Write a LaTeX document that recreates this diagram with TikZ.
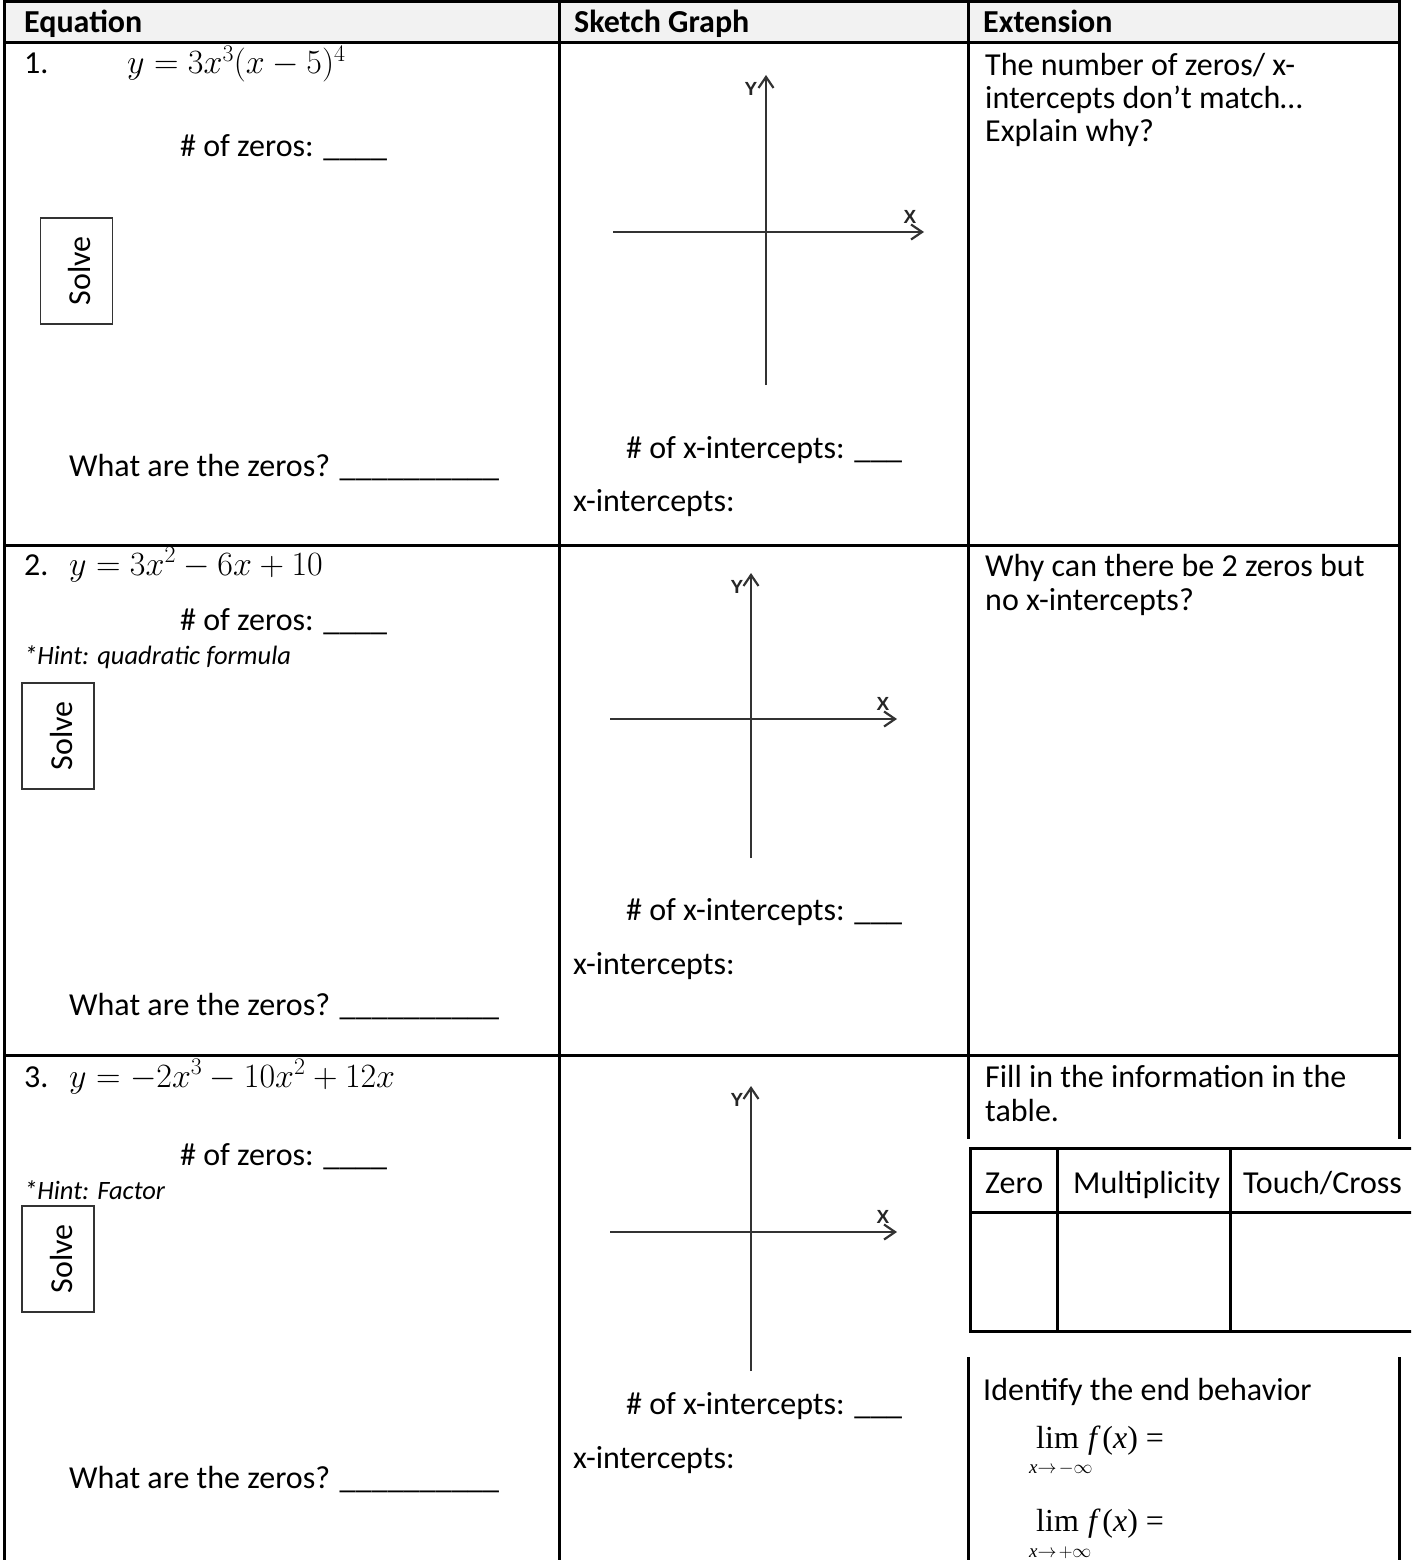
\RequirePackage{fix-cm}
\documentclass[tikz,border=0pt]{standalone}
\usepackage[no-math]{fontspec}
\setmainfont{Carlito}
\newfontfamily\axisfont{Liberation Sans}
\newfontfamily\timesf{Liberation Serif}
\usetikzlibrary{arrows.meta}
\definecolor{hdrgray}{HTML}{F2F2F2}
\definecolor{axgray}{HTML}{333333}
\begin{document}
\begin{tikzpicture}[x=1pt,y=-1pt,
  txt/.style={anchor=base west, inner sep=0pt, font=\fontsize{32}{33}\selectfont},
  hdr/.style={anchor=base west, inner sep=0pt, font=\fontsize{32}{33}\selectfont\bfseries},
  hint/.style={anchor=base west, inner sep=0pt, font=\fontsize{26.5}{28}\selectfont\itshape},
  eqn/.style={anchor=base west, inner sep=0pt, font=\fontsize{34}{36}\selectfont},
  limtxt/.style={anchor=base west, inner sep=0pt, font=\fontsize{32}{34}\selectfont\timesf},
  subtxt/.style={anchor=base west, inner sep=0pt, font=\fontsize{19}{20}\selectfont\timesf},
  tbl/.style={line width=3pt, line cap=rect},
  solvebox/.style={draw=black!80, line width=1.4pt, minimum width=72pt, minimum height=106pt, inner sep=0pt},
  solvetxt/.style={rotate=90, inner sep=0pt, font=\fontsize{32}{33}\selectfont},
  axis/.style={line width=2.5pt, draw=axgray, -{Straight Barb[length=11pt,width=15pt,line width=2.2pt]}},
  axlab/.style={inner sep=0pt, font=\fontsize{19}{19}\selectfont\axisfont\bfseries, text=black!85},
]
\useasboundingbox (0,0) rectangle (1411,1560);
\clip (0,0) rectangle (1411,1560);

% header background
\fill[hdrgray] (4,2) rectangle (1399,43);

% main table lines
\draw[tbl] (4,2) -- (1399,2);
\draw[tbl] (4,43) -- (1399,43);
\draw[tbl] (4,545) -- (1399,545);
\draw[tbl] (4,1055) -- (1399,1055);
\draw[tbl] (4,2) -- (4,1565);
\draw[tbl] (559,2) -- (559,1565);
\draw[tbl] (968,2) -- (968,1137);
\draw[tbl] (968,1358) -- (968,1565);
\draw[tbl] (1399,2) -- (1399,1137);
\draw[tbl] (1399,1358) -- (1399,1565);

% inner table
\draw[tbl] (970,1148) -- (1420,1148);
\draw[tbl] (970,1212) -- (1420,1212);
\draw[tbl] (970,1331) -- (1420,1331);
\draw[tbl] (970,1148) -- (970,1331);
\draw[tbl] (1057,1148) -- (1057,1331);
\draw[tbl] (1230,1148) -- (1230,1331);

% headers
\node[hdr] (h1) at (24,33) {Equation};
\node[hdr] (h2) at (574,33) {Sketch Graph};
\node[hdr] (h3) at (983,33) {Extension};

% ---------- row 1
\node[txt] (n1) at (24,74) {1.};
\node[eqn] (e1) at (127,74) {$y = 3x^3(x-5)^4$};
\node[txt] (z1) at (180,157) {\# of zeros: \_\_\_\_};
\node[solvebox] (s1) at (76.5,271) {};
\node[solvetxt] (s1t) at ([xshift=3pt]s1.center) {Solve};
\node[txt] (w1) at (69,476) {What are the zeros? \_\_\_\_\_\_\_\_\_\_};
\node[txt] (xi1) at (626,458) {\# of x-intercepts: \_\_\_};
\node[txt] (xl1) at (573,511) {x-intercepts:};
\node[txt] (c1a) at (985,76) {The number of zeros/ x-};
\node[txt] (c1b) at (985,109) {intercepts don’t match…};
\node[txt] (c1c) at (985,142) {Explain why?};

\coordinate (g1l) at (613,232);
\coordinate (g1r) at (924,232);
\coordinate (g1b) at (766,385);
\coordinate (g1t) at (766,75);
\draw[axis] (g1l) -- (g1r);
\draw[axis] (g1b) -- (g1t);
\node[axlab] (g1y) at (751,89) {Y};
\node[axlab] (g1x) at (910,217) {X};

% ---------- row 2
\node[txt] (n2) at (24,575) {2.};
\node[eqn] (e2) at (69,575) {$y = 3x^2 - 6x + 10$};
\node[txt] (z2) at (180,630) {\# of zeros: \_\_\_\_};
\node[hint] (hi2) at (24,664) {*Hint: quadratic formula};
\node[solvebox] (s2) at (58,736) {};
\node[solvetxt] (s2t) at ([xshift=3pt]s2.center) {Solve};
\node[txt] (w2) at (69,1015) {What are the zeros? \_\_\_\_\_\_\_\_\_\_};
\node[txt] (xi2) at (626,920) {\# of x-intercepts: \_\_\_};
\node[txt] (xl2) at (573,974) {x-intercepts:};
\node[txt] (c2a) at (985,576) {Why can there be 2 zeros but};
\node[txt] (c2b) at (985,610) {no x-intercepts?};

\coordinate (g2l) at (610,719);
\coordinate (g2r) at (897,719);
\coordinate (g2b) at (751,858);
\coordinate (g2t) at (751,573);
\draw[axis] (g2l) -- (g2r);
\draw[axis] (g2b) -- (g2t);
\node[axlab] (g2y) at (737,587) {Y};
\node[axlab] (g2x) at (883,704) {X};

% ---------- row 3
\node[txt] (n3) at (24,1087) {3.};
\node[eqn] (e3) at (69,1087) {$y = -2x^3 - 10x^2 + 12x$};
\node[txt] (z3) at (180,1165) {\# of zeros: \_\_\_\_};
\node[hint] (hi3) at (24,1199) {*Hint: Factor};
\node[solvebox] (s3) at (58,1259) {};
\node[solvetxt] (s3t) at ([xshift=3pt]s3.center) {Solve};
\node[txt] (w3) at (69,1488) {What are the zeros? \_\_\_\_\_\_\_\_\_\_};
\node[txt] (xi3) at (626,1414) {\# of x-intercepts: \_\_\_};
\node[txt] (xl3) at (573,1468) {x-intercepts:};
\node[txt] (c3a) at (985,1087) {Fill in the information in the};
\node[txt] (c3b) at (985,1121) {table.};
\node[txt] (tz) at (985,1193) {Zero};
\node[txt] (tm) at (1073,1193) {Multiplicity};
\node[txt] (tt) at (1243,1193) {Touch/Cross};
\node[txt] (eb) at (983,1400) {Identify the end behavior};

\node[limtxt] (l1lim) at (1036,1448) {lim};
\node[subtxt] (l1sub) at (1029,1473) {\itshape x\upshape$\to\!-\infty$};
\node[limtxt] (l1f) at (1088,1448) {\itshape f\upshape\,(\itshape x\upshape) =};
\node[limtxt] (l2lim) at (1036,1531) {lim};
\node[subtxt] (l2sub) at (1029,1557) {\itshape x\upshape$\to\!+\infty$};
\node[limtxt] (l2f) at (1088,1531) {\itshape f\upshape\,(\itshape x\upshape) =};

\coordinate (g3l) at (610,1232);
\coordinate (g3r) at (897,1232);
\coordinate (g3b) at (751,1371);
\coordinate (g3t) at (751,1086);
\draw[axis] (g3l) -- (g3r);
\draw[axis] (g3b) -- (g3t);
\node[axlab] (g3y) at (737,1100) {Y};
\node[axlab] (g3x) at (883,1217) {X};
\end{tikzpicture}
\end{document}
